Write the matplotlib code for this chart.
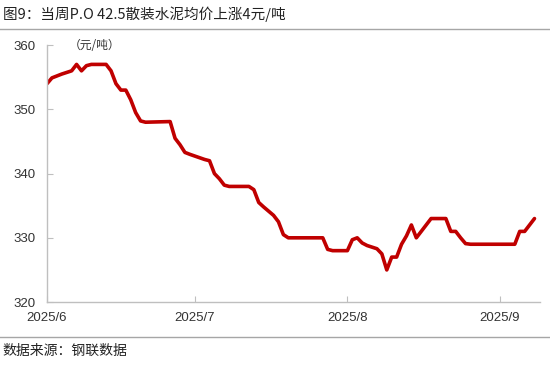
import pandas as pd
import matplotlib
matplotlib.use("Agg")
import matplotlib.pyplot as plt
import matplotlib.dates as mdates
from matplotlib.lines import Line2D

plt.rcParams['font.family'] = ['Liberation Sans', 'Noto Sans CJK SC', 'DejaVu Sans']

dates = ["2025-06-01", "2025-06-02", "2025-06-04", "2025-06-06", "2025-06-07",
         "2025-06-08", "2025-06-09", "2025-06-10", "2025-06-13", "2025-06-14",
         "2025-06-15", "2025-06-16", "2025-06-17", "2025-06-18", "2025-06-19",
         "2025-06-20", "2025-06-21", "2025-06-26", "2025-06-27", "2025-06-28",
         "2025-06-29", "2025-06-30", "2025-07-03", "2025-07-04", "2025-07-05",
         "2025-07-06", "2025-07-07", "2025-07-08", "2025-07-12", "2025-07-13",
         "2025-07-14", "2025-07-15", "2025-07-17", "2025-07-18", "2025-07-19",
         "2025-07-20", "2025-07-27", "2025-07-28", "2025-07-29", "2025-08-01",
         "2025-08-02", "2025-08-03", "2025-08-04", "2025-08-05", "2025-08-07",
         "2025-08-08", "2025-08-09", "2025-08-10", "2025-08-11", "2025-08-12",
         "2025-08-13", "2025-08-14", "2025-08-15", "2025-08-16", "2025-08-17",
         "2025-08-18", "2025-08-21", "2025-08-22", "2025-08-23", "2025-08-24",
         "2025-08-25", "2025-08-26", "2025-09-04", "2025-09-05", "2025-09-06",
         "2025-09-07", "2025-09-08"]
prices = [354.0, 354.9, 355.5, 356.0, 357.0,
          356.0, 356.8, 357.0, 357.0, 356.0,
          354.0, 353.0, 353.0, 351.5, 349.5,
          348.2, 348.0, 348.1, 345.5, 344.5,
          343.3, 343.0, 342.2, 342.0, 340.0,
          339.2, 338.2, 338.0, 338.0, 337.5,
          335.5, 334.8, 333.5, 332.5, 330.5,
          330.0, 330.0, 328.2, 328.0, 328.0,
          329.7, 330.0, 329.2, 328.8, 328.3,
          327.5, 325.0, 327.0, 327.0, 329.0,
          330.3, 332.0, 330.0, 331.0, 332.0,
          333.0, 333.0, 331.0, 331.0, 330.0,
          329.1, 329.0, 329.0, 331.0, 331.0,
          332.0, 333.0]

x = pd.to_datetime(dates)

fig = plt.figure(figsize=(5.5, 3.67), dpi=100)
ax = fig.add_axes([0.0855, 0.177, 0.896, 0.70])

ax.plot(x, prices, color='#C00000', linewidth=2.6, solid_joinstyle='round',
        solid_capstyle='round')

ax.set_ylim(320, 360)
ax.set_yticks([320, 330, 340, 350, 360])
ax.set_xlim(pd.Timestamp("2025-06-01"), pd.Timestamp("2025-09-09 02:00"))
ax.xaxis.set_major_locator(mdates.MonthLocator())
ax.xaxis.set_major_formatter(mdates.DateFormatter('%Y/%-m'))

for s in ['top', 'right']:
    ax.spines[s].set_visible(False)
for s in ['left', 'bottom']:
    ax.spines[s].set_color('#bfbfbf')
    ax.spines[s].set_linewidth(1.0)
ax.tick_params(direction='in', length=4, color='#bfbfbf', labelsize=9.5,
               labelcolor='#333333')
ax.tick_params(axis='x', pad=7)
ax.tick_params(axis='y', pad=8)

ax.text(0.045, 1.0, '（元/吨）', transform=ax.transAxes, fontsize=8.5,
        family=['Noto Sans CJK SC'], color='#333333', va='center', ha='left')

fig.text(0.005, 0.962, '图9：当周P.O 42.5散装水泥均价上涨4元/吨', fontsize=10.5,
         family=['Noto Sans CJK SC'], color='#222222', va='center', ha='left')
fig.text(0.005, 0.043, '数据来源：钢联数据', fontsize=10,
         family=['Noto Sans CJK SC'], color='#222222', va='center', ha='left')

fig.add_artist(Line2D([0, 1], [0.922, 0.922], color='#a6a6a6', linewidth=1.0,
                      transform=fig.transFigure))
fig.add_artist(Line2D([0, 1], [0.082, 0.082], color='#a6a6a6', linewidth=1.0,
                      transform=fig.transFigure))

fig.savefig('out.png', dpi=100)
